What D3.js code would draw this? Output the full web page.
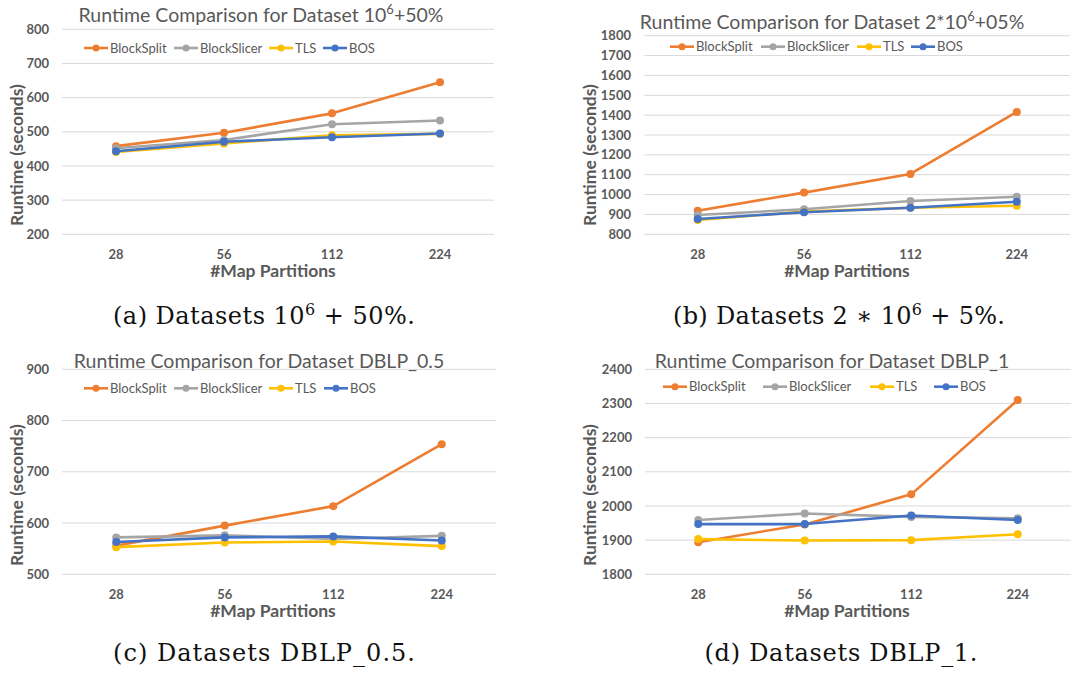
<!DOCTYPE html>
<html>
<head>
<meta charset="utf-8">
<script src="https://cdn.jsdelivr.net/npm/d3@7"></script>
<style>
  body { margin: 0; background: #fff; }
  svg { display: block; }
</style>
</head>
<body>
<svg id="chart" width="1089" height="675"></svg>
<script>
var partitions = ["28", "56", "112", "224"];
var seriesNames = ["BlockSplit", "BlockSlicer", "TLS", "BOS"];
var seriesColors = ["#ED7D31", "#A5A5A5", "#FFC000", "#4472C4"];

// runtime (seconds), one row per series in seriesNames order
var runtimeA = [[458, 497, 554, 645], [452, 476, 522, 533], [441, 466, 490, 494], [443, 471, 484, 495]];
var runtimeB = [[919, 1010, 1104, 1416], [897, 926, 968, 989], [872, 914, 934, 944], [877, 911, 934, 964]];
var runtimeC = [[556, 595, 633, 754], [572, 576, 569, 575], [553, 562, 564, 555], [563, 572, 574, 566]];
var runtimeD = [[1894, 1946, 2034, 2310], [1959, 1978, 1968, 1964], [1903, 1899, 1900, 1917], [1947, 1947, 1972, 1959]];

var ticksA = [200, 300, 400, 500, 600, 700, 800];
var ticksB = [800, 900, 1000, 1100, 1200, 1300, 1400, 1500, 1600, 1700, 1800];
var ticksC = [500, 600, 700, 800, 900];
var ticksD = [1800, 1900, 2000, 2100, 2200, 2300, 2400];

var svg = d3.select("#chart");
svg.append("rect").attr("width", 1089).attr("height", 675).attr("fill", "#fff");

var font = "Lato, 'Open Sans', sans-serif";

var panels = [
  { title: [["Runtime Comparison for Dataset 10"], ["6", true], ["+50%"]], data: runtimeA, ticks: ticksA,
    x0: 62, x1: 494, y0: 29.3, y1: 234.3, tickX: 49, titleX: 261, titleY: 22,
    legendY: 48, legendX: [84, 174, 269, 323], xLabY: 259, xTitleX: 273, xTitleY: 277, yTitleX: 17, yTitleY: 155,
    caption: "a", capX: 264, capY: 324, capW: 302 },
  { title: [["Runtime Comparison for Dataset 2*10"], ["6", true], ["+05%"]], data: runtimeB, ticks: ticksB,
    x0: 644.5, x1: 1070, y0: 35.7, y1: 234.3, tickX: 631, titleX: 832, titleY: 29,
    legendY: 46.7, legendX: [670, 761, 857, 911], xLabY: 259, xTitleX: 847, xTitleY: 277, yTitleX: 590, yTitleY: 155,
    caption: "b", capX: 839, capY: 324, capW: 332 },
  { title: [["Runtime Comparison for Dataset DBLP_0.5"]], data: runtimeC, ticks: ticksC,
    x0: 62, x1: 496, y0: 369.3, y1: 574.3, tickX: 49, titleX: 259, titleY: 368,
    legendY: 388.3, legendX: [84, 174, 269, 324], xLabY: 599, xTitleX: 273, xTitleY: 617, yTitleX: 17, yTitleY: 495,
    caption: "c", capX: 264, capY: 661, capW: 302 },
  { title: [["Runtime Comparison for Dataset DBLP_1"]], data: runtimeD, ticks: ticksD,
    x0: 645, x1: 1071, y0: 369.3, y1: 574.3, tickX: 632, titleX: 832, titleY: 368,
    legendY: 386.7, legendX: [663, 763, 870, 934], xLabY: 599, xTitleX: 847, xTitleY: 617, yTitleX: 590, yTitleY: 495,
    caption: "d", capX: 841, capY: 661, capW: 273 }
];

panels.forEach(function(p) {
  var g = svg.append("g");
  var x = d3.scalePoint().domain(partitions).range([p.x0, p.x1]).padding(0.5);
  var y = d3.scaleLinear().domain(d3.extent(p.ticks)).range([p.y1, p.y0]);

  // gridlines
  g.selectAll(".grid").data(p.ticks).enter().append("line")
    .attr("x1", p.x0).attr("x2", p.x1)
    .attr("y1", d => y(d)).attr("y2", d => y(d))
    .attr("stroke", "#D9D9D9").attr("stroke-width", 1);

  // y tick labels
  g.selectAll(".ytick").data(p.ticks).enter().append("text")
    .attr("x", p.tickX).attr("y", d => y(d)).attr("dy", "0.35em")
    .attr("text-anchor", "end")
    .style("font", "bold 13px " + font).attr("fill", "#595959")
    .text(d => d);

  // x tick labels
  g.selectAll(".xtick").data(partitions).enter().append("text")
    .attr("x", d => x(d)).attr("y", p.xLabY)
    .attr("text-anchor", "middle")
    .style("font", "bold 13px " + font).attr("fill", "#595959")
    .text(d => d);

  // title
  var t = g.append("text").attr("x", p.titleX).attr("y", p.titleY)
    .attr("text-anchor", "middle").style("font", "19.5px " + font).attr("fill", "#595959");
  p.title.forEach(function(part) {
    var ts = t.append("tspan").text(part[0]);
    if (part[1]) ts.attr("baseline-shift", "super").style("font-size", "13px");
  });

  // axis titles
  g.append("text").attr("x", p.xTitleX).attr("y", p.xTitleY)
    .attr("text-anchor", "middle").style("font", "bold 17.5px " + font).attr("fill", "#595959")
    .text("#Map Partitions");
  g.append("text")
    .attr("transform", "translate(" + p.yTitleX + "," + p.yTitleY + ") rotate(-90)")
    .attr("dy", "0.35em")
    .attr("text-anchor", "middle").style("font", "bold 17.5px " + font).attr("fill", "#595959")
    .text("Runtime (seconds)");

  // lines + markers
  var line = d3.line().x((d, i) => x(partitions[i])).y(d => y(d));
  p.data.forEach(function(vals, si) {
    g.append("path").datum(vals)
      .attr("d", line).attr("fill", "none")
      .attr("stroke", seriesColors[si]).attr("stroke-width", 2.6)
      .attr("stroke-linejoin", "round");
    g.selectAll(".pt" + si).data(vals).enter().append("circle")
      .attr("cx", (d, i) => x(partitions[i])).attr("cy", d => y(d))
      .attr("r", 4).attr("fill", seriesColors[si]);
  });

  // legend
  seriesNames.forEach(function(name, si) {
    var lx = p.legendX[si];
    g.append("line").attr("x1", lx).attr("x2", lx + 24)
      .attr("y1", p.legendY).attr("y2", p.legendY)
      .attr("stroke", seriesColors[si]).attr("stroke-width", 2.6);
    g.append("circle").attr("cx", lx + 12).attr("cy", p.legendY).attr("r", 3.5).attr("fill", seriesColors[si]);
    g.append("text").attr("x", lx + 26).attr("y", p.legendY).attr("dy", "0.35em")
      .style("font", "13px " + font).attr("fill", "#595959").text(name);
  });

  // caption (LaTeX-like subfigure label)
  var c = svg.append("text").attr("x", p.capX).attr("y", p.capY)
    .attr("text-anchor", "middle")
    .attr("textLength", p.capW).attr("lengthAdjust", "spacing")
    .style("font", "24px 'DejaVu Serif', 'Liberation Serif', serif").attr("fill", "#111");
  c.append("tspan").text("(" + p.caption + ") Datasets ");
  if (p.caption === "a") {
    c.append("tspan").text("10");
    c.append("tspan").attr("baseline-shift", "super").style("font-size", "16px").text("6");
    c.append("tspan").text(" + 50%.");
  } else if (p.caption === "b") {
    c.append("tspan").text("2 \u2217 10");
    c.append("tspan").attr("baseline-shift", "super").style("font-size", "16px").text("6");
    c.append("tspan").text(" + 5%.");
  } else if (p.caption === "c") {
    c.append("tspan").text("DBLP_0.5.");
  } else {
    c.append("tspan").text("DBLP_1.");
  }
});
</script>
</body>
</html>
